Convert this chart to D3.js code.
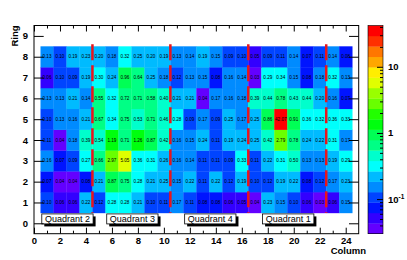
<!DOCTYPE html>
<html><head><meta charset="utf-8">
<script src="https://cdn.jsdelivr.net/npm/d3@7"></script>
<style>
body{margin:0;background:#fff}
text{font-family:"Liberation Sans",Arial,Helvetica,sans-serif}
</style></head><body>
<svg width="407" height="260"></svg>
<script>
// values per ring, columns 1..24
var columns = d3.range(1, 25)
var ring8 = [0.13,0.10,0.19,0.23,0.20,0.18,0.32,0.25,0.20,0.19,0.13,0.14,0.19,0.15,0.09,0.10,0.05,0.09,0.11,0.14,0.07,0.11,0.14,0.08]
var ring7 = [0.06,0.10,0.09,0.19,0.30,0.24,0.96,0.64,0.25,0.18,0.12,0.13,0.15,0.08,0.16,0.14,0.03,0.29,0.34,0.15,0.08,0.18,0.32,0.13]
var ring6 = [0.13,0.13,0.21,0.14,0.55,0.32,0.72,0.71,0.58,0.40,0.21,0.21,0.04,0.17,0.16,0.18,0.39,0.44,0.78,0.43,0.44,0.20,0.16,0.07]
var ring5 = [0.10,0.13,0.16,0.21,0.67,0.34,0.75,0.53,0.71,0.46,0.28,0.09,0.17,0.09,0.25,0.17,0.25,0.86,42.07,0.91,0.36,0.32,0.36,0.33]
var ring4 = [0.11,0.04,0.18,0.39,0.54,1.19,0.71,1.26,0.87,0.42,0.16,0.15,0.24,0.11,0.19,0.24,0.25,0.42,2.79,0.78,0.24,0.22,0.31,0.17]
var ring3 = [0.16,0.07,0.09,0.27,0.66,2.97,5.05,0.36,0.31,0.26,0.16,0.14,0.11,0.11,0.09,0.33,0.11,0.22,0.31,0.50,0.13,0.13,0.19,0.29]
var ring2 = [0.07,0.04,0.04,0.08,0.21,0.87,0.75,0.28,0.21,0.25,0.15,0.22,0.11,0.22,0.12,0.19,0.10,0.12,0.19,0.22,0.08,0.12,0.17,0.23]
var ring1 = [0.10,0.06,0.06,0.22,0.12,0.28,0.28,0.21,0.10,0.11,0.17,0.11,0.08,0.08,0.06,0.05,0.04,0.23,0.15,0.10,0.06,0.03,0.06,0.15]
var rings = [1, 2, 3, 4, 5, 6, 7, 8]
var ringValues = [ring1, ring2, ring3, ring4, ring5, ring6, ring7, ring8]

var boundaries = [4.5, 10.5, 16.5, 22.5]
var quadrantNames = ["Quadrant 2", "Quadrant 3", "Quadrant 4", "Quadrant 1"]
var quadrantStart = [0.6, 5.6, 11.6, 17.6]
var xTicks = d3.range(0, 25, 2)
var yTicks = d3.range(0, 10)
var zTicks = [0.1, 1, 10]
var zMin = 0.03, zMax = 42.07

var svg = d3.select("svg")
var x = d3.scaleLinear().domain([0, 25]).range([34, 358.7])
var y = d3.scaleLinear().domain([-0.5, 9.5]).range([233.7, 25.5])
var z = d3.scaleLog().domain([zMin, zMax]).range([233.7, 25.5])

// ROOT "pretty" palette, 50 colours, 20 contours
var nCont = 20
function paletteColor(i) {
    return d3.hsl(280 - (i + 1) * 5.6, 1, 0.5).toString()
}
function contourColor(k) {
    return paletteColor(Math.floor((k + 0.99) * 50 / nCont))
}
function valueColor(v) {
    var k = Math.floor(nCont * (Math.log(v) - Math.log(zMin)) / (Math.log(zMax) - Math.log(zMin)))
    return contourColor(Math.max(0, Math.min(nCont - 1, k)))
}

var cells = []
rings.forEach(function (r, ri) {
    columns.forEach(function (c, ci) {
        cells.push({ ring: r, col: c, v: ringValues[ri][ci] })
    })
})

var g = svg.append("g")
g.selectAll("rect.cell").data(cells).enter().append("rect")
    .attr("class", "cell")
    .attr("x", function (d) { return x(d.col - 0.5) })
    .attr("y", function (d) { return y(d.ring + 0.5) })
    .attr("width", x(1) - x(0) + 0.3)
    .attr("height", y(0) - y(1) + 0.3)
    .attr("fill", function (d) { return valueColor(d.v) })

g.selectAll("text.val").data(cells).enter().append("text")
    .attr("class", "val")
    .attr("x", function (d) { return x(d.col) })
    .attr("y", function (d) { return y(d.ring) })
    .attr("dy", "0.35em")
    .attr("text-anchor", "middle")
    .attr("font-size", "4.6px")
    .attr("fill", "#000")
    .text(function (d) { return d3.format(".2f")(d.v) })

// sector boundaries
g.selectAll("line.bnd").data(boundaries).enter().append("line")
    .attr("x1", function (d) { return x(d) })
    .attr("x2", function (d) { return x(d) })
    .attr("y1", y(8.6))
    .attr("y2", y(0.5))
    .attr("stroke", "#e8141c")
    .attr("stroke-width", 2.5)
    .attr("stroke-dasharray", "16,5")

// quadrant labels
var q = g.selectAll("g.quad").data(quadrantNames).enter().append("g")
q.append("rect")
    .attr("x", function (d, i) { return x(quadrantStart[i]) + 2.5 })
    .attr("y", y(0.45) + 2.5)
    .attr("width", x(3.95) - x(0))
    .attr("height", y(0) - y(0.48))
    .attr("fill", "#000")
q.append("rect")
    .attr("x", function (d, i) { return x(quadrantStart[i]) })
    .attr("y", y(0.45))
    .attr("width", x(3.95) - x(0))
    .attr("height", y(0) - y(0.48))
    .attr("fill", "#fff")
    .attr("stroke", "#000")
    .attr("stroke-width", 0.8)
q.append("text")
    .attr("x", function (d, i) { return x(quadrantStart[i] + 1.975) })
    .attr("y", y(0.21))
    .attr("dy", "0.36em")
    .attr("text-anchor", "middle")
    .attr("font-size", "9px")
    .text(function (d) { return d })

// frame and axes
svg.append("rect")
    .attr("x", x(0)).attr("y", y(9.5))
    .attr("width", x(25) - x(0)).attr("height", y(-0.5) - y(9.5))
    .attr("fill", "none").attr("stroke", "#000")

function clean(sel) {
    sel.select(".domain").remove()
    sel.selectAll("text").attr("font-weight", "bold").attr("font-size", "9.5px")
        .attr("font-family", "Liberation Sans, Arial, sans-serif").attr("fill", "#000")
}

svg.append("g").attr("transform", "translate(0," + y(-0.5) + ")")
    .call(d3.axisBottom(x).tickValues(xTicks).tickSizeInner(-6).tickSizeOuter(0).tickPadding(4))
    .call(clean)
svg.append("g").attr("transform", "translate(0," + y(-0.5) + ")")
    .call(d3.axisBottom(x).tickValues(d3.range(1, 25, 2)).tickSizeInner(-3).tickSizeOuter(0).tickFormat(""))
    .call(clean)
svg.append("g").attr("transform", "translate(0," + y(9.5) + ")")
    .call(d3.axisTop(x).tickValues(xTicks).tickSizeInner(-6).tickSizeOuter(0).tickFormat(""))
    .call(clean)
svg.append("g").attr("transform", "translate(0," + y(9.5) + ")")
    .call(d3.axisTop(x).tickValues(d3.range(1, 25, 2)).tickSizeInner(-3).tickSizeOuter(0).tickFormat(""))
    .call(clean)
svg.append("g").attr("transform", "translate(" + x(0) + ",0)")
    .call(d3.axisLeft(y).tickValues(yTicks).tickSizeInner(-9.7).tickSizeOuter(0).tickPadding(6))
    .call(clean)
svg.append("g").attr("transform", "translate(" + x(25) + ",0)")
    .call(d3.axisRight(y).tickValues(yTicks).tickSizeInner(-9.7).tickSizeOuter(0).tickFormat(""))
    .call(clean)

svg.append("text")
    .attr("x", 366).attr("y", 254)
    .attr("text-anchor", "end")
    .attr("font-weight", "bold").attr("font-size", "9.5px")
    .text("Column")
svg.append("text")
    .attr("transform", "translate(18," + y(9.5) + ") rotate(-90)")
    .attr("text-anchor", "end")
    .attr("font-weight", "bold").attr("font-size", "9.5px")
    .text("Ring")

// colour bar
var cbX = 368, cbW = 15
var levels = d3.range(nCont + 1).map(function (k) { return zMin * Math.pow(zMax / zMin, k / nCont) })
svg.selectAll("rect.band").data(d3.range(nCont)).enter().append("rect")
    .attr("x", cbX)
    .attr("y", function (k) { return z(levels[k + 1]) })
    .attr("width", cbW)
    .attr("height", function (k) { return z(levels[k]) - z(levels[k + 1]) + 0.3 })
    .attr("fill", function (k) { return contourColor(k) })
svg.append("rect")
    .attr("x", cbX).attr("y", z(zMax)).attr("width", cbW).attr("height", z(zMin) - z(zMax))
    .attr("fill", "none").attr("stroke", "#000").attr("stroke-width", 0.6)

var zMinor = [0.04,0.05,0.06,0.07,0.08,0.09,0.2,0.3,0.4,0.5,0.6,0.7,0.8,0.9,2,3,4,5,6,7,8,9,20,30,40]
svg.append("g").attr("transform", "translate(" + (cbX + cbW) + ",0)")
    .call(d3.axisRight(z).tickValues(zMinor).tickSizeInner(-3).tickSizeOuter(0).tickFormat(""))
    .call(clean)
var za = svg.append("g").attr("transform", "translate(" + (cbX + cbW) + ",0)")
    .call(d3.axisRight(z).tickValues(zTicks).tickSizeInner(-6).tickSizeOuter(0).tickPadding(5)
        .tickFormat(function (d) { return d < 1 ? "10" : d3.format("d")(d) }))
    .call(clean)
za.selectAll("text").filter(function (d) { return d < 1 })
    .append("tspan").attr("dy", "-0.5em").attr("font-size", "6.5px").text("-1")
</script>
</body></html>
